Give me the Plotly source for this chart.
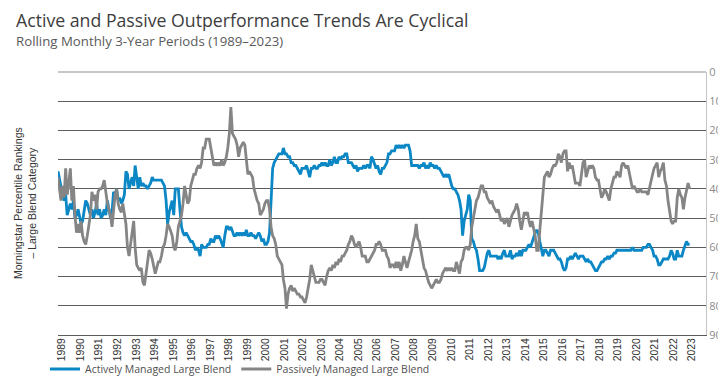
import pandas as pd
import plotly.graph_objects as go

# Monthly percentile rankings (lower = better), Jan 1989 onward
start_month = "1989-01-01"

active_rank = [
    34, 37, 40, 42, 44, 42, 49, 47, 45, 47, 44, 50, 49, 47, 50, 52, 51, 48, 44, 45, 47,
    49, 47, 50, 48, 45, 49, 47, 50, 49, 47, 49, 44, 47,
    50, 48, 41, 42, 40, 44, 43, 45, 44, 42, 34, 35, 40, 38,
    36, 39, 32, 36, 40, 36, 39, 38, 39, 39, 40, 39, 38,
    36, 37, 37, 37, 37, 37, 37, 38, 39, 44, 52, 48, 46,
    44, 49, 40, 40, 40, 47, 53, 55, 56, 55, 56, 57, 58, 58,
    59, 61, 60, 61, 63, 59, 60, 60, 60, 59, 59, 57, 58,
    58, 56, 57, 56, 57, 59,
    60, 56, 53, 53, 54, 53, 55, 56,
    56, 55, 56, 55, 56, 55, 56, 54, 56, 56, 55, 56, 56, 57, 56,
    55, 56, 58, 57, 59, 59, 58, 55, 42, 33, 31, 30, 29, 28, 28,
    28, 26, 28, 28, 29, 29, 31, 31, 32, 32, 33, 34, 35, 33, 33,
    33, 32, 34, 36, 33, 33, 32, 33, 33, 32, 32, 31, 32, 31, 32,
    32, 30, 32, 31, 29, 31, 31, 29, 30, 29, 29, 28, 28, 31, 31,
    31, 32, 33, 32, 34, 33, 33, 33, 32, 33, 32, 32, 33, 29, 30,
    32, 33, 32, 34, 35, 33,
    33, 32, 31, 28, 28, 27, 27,
    27, 25, 26, 25, 26, 25, 26, 25, 25, 25, 27, 32, 32,
    32, 32, 32, 33, 32, 32, 31, 33, 32, 33, 31, 32, 32,
    33, 32, 33, 33, 34, 35, 36, 35, 36, 35, 37, 39, 40,
    40, 41, 42, 44, 47, 56, 51, 49, 47, 42, 44, 57, 58,
    60, 61, 64, 68, 68, 68, 67, 64, 62, 61, 63, 63, 63,
    63, 63, 64, 63, 64, 62, 61, 63, 63, 63, 61, 64, 63,
    63, 62, 63, 61, 63, 61, 61, 61, 60, 59, 60, 58, 56,
    55, 54, 55, 58, 61, 63,
    61, 61, 62, 63, 61, 61, 61, 62,
    63, 64, 64, 65, 67, 68, 67, 64, 64, 63, 64, 63, 62, 63,
    64, 63, 63, 63, 64, 65, 64, 65, 65, 66, 67, 68, 68,
    67, 66, 65, 65, 64, 64, 63, 64, 63, 63, 62, 62, 61, 61,
    61, 61, 61, 61, 61, 61, 61, 61, 60, 61, 61, 61, 61,
    61, 61, 60, 60, 60, 59, 59, 60, 61, 63, 63, 64, 66, 66,
    65, 64, 64, 64, 64, 63, 61, 62, 64, 64, 61, 63, 63,
    63, 61, 59, 58, 59, 59,
]

passive_rank = [
    36, 40, 44, 39, 43, 33, 42, 38,
    33, 44, 39, 49, 55, 52, 55, 51, 56, 58, 59, 56, 53,
    49, 41, 44, 42, 47, 41, 40, 40, 39, 37, 42, 45, 47,
    49, 53, 48, 42, 40, 45, 47, 48, 45, 48, 52, 60, 63, 59,
    55, 51, 60, 66, 67, 68, 67, 72, 73, 68, 65, 61, 62,
    64, 67, 69, 67, 65, 65, 63, 60, 59, 56, 52, 53, 55,
    56, 60, 61, 58, 53, 51, 49, 45, 39, 42, 45, 44, 39, 37,
    35, 35, 33, 32, 33, 31, 26, 26, 23, 23, 23, 26, 29,
    32, 31, 32, 31, 32, 30,
    32, 31, 29, 26, 21, 12, 21, 22,
    23, 25, 29, 26, 25, 24, 25, 31, 35, 34, 35, 36, 40, 42, 44,
    45, 49, 48, 47, 45, 44, 44, 47, 53, 56, 57, 59, 63, 64, 65,
    66, 71, 74, 81, 76, 74, 73, 75, 74, 75, 76, 76, 77, 77, 78,
    79, 77, 74, 71, 66, 68, 71, 72, 72, 72, 71, 71, 72, 73, 70,
    68, 67, 68, 66, 67, 65, 66, 64, 65, 63, 63, 62, 61, 59, 58,
    56, 57, 59, 60, 59, 58, 60, 63, 63, 63, 65, 65, 64, 63, 62,
    61, 59, 59, 58, 59, 61,
    61, 61, 63, 64, 67, 66, 66,
    67, 65, 67, 65, 68, 66, 63, 65, 67, 65, 63, 61, 58,
    56, 52, 57, 58, 61, 63, 67, 68, 70, 72, 73, 74, 73,
    72, 71, 72, 72, 71, 69, 68, 67, 68, 67, 68, 67, 68,
    68, 65, 67, 69, 65, 64, 61, 60, 60, 61, 59, 53, 50,
    47, 44, 43, 41, 39, 39, 41, 41, 43, 44, 45, 44, 46,
    47, 48, 47, 49, 51, 50, 52, 51, 50, 53, 51, 49, 48,
    47, 45, 47, 51, 54, 51, 48, 49, 48, 51, 53, 51, 54,
    56, 61, 61, 54, 47, 41,
    36, 35, 34, 36, 35, 33, 32, 32,
    31, 28, 29, 31, 28, 27, 27, 34, 31, 33, 32, 35, 38, 38,
    38, 39, 35, 31, 30, 36, 34, 32, 33, 32, 33, 36, 37,
    37, 40, 43, 42, 40, 41, 43, 44, 40, 38, 36, 36, 34, 35,
    36, 32, 31, 32, 33, 32, 35, 37, 40, 39, 40, 41, 41,
    40, 41, 41, 41, 41, 42, 40, 37, 35, 33, 32, 31, 36, 34,
    33, 31, 37, 39, 44, 47, 51, 52, 51, 51, 43, 40, 42,
    43, 47, 43, 41, 38, 40,
]

series_names = ["Actively Managed Large Blend", "Passively Managed Large Blend"]
series_colors = ["#0a87c4", "#858585"]
rank_ticks = list(range(0, 100, 10))

dates_active = pd.date_range(start_month, periods=len(active_rank), freq="MS")
dates_passive = pd.date_range(start_month, periods=len(passive_rank), freq="MS")

fig = go.Figure()
fig.add_trace(go.Scatter(x=dates_active, y=active_rank, mode="lines",
                         name=series_names[0],
                         line=dict(color=series_colors[0], width=2.8)))
fig.add_trace(go.Scatter(x=dates_passive, y=passive_rank, mode="lines",
                         name=series_names[1],
                         line=dict(color=series_colors[1], width=2.8)))

W, H = 726, 380
L, R, T, B = 50, 28, 64, 53
pw, ph = W - L - R, H - T - B

def px_x(x):
    return (x - L) / pw

def px_y(y):
    return (H - B - y) / ph

fig.update_layout(
    width=W, height=H,
    margin=dict(l=L, r=R, t=T, b=B, autoexpand=False),
    paper_bgcolor="white", plot_bgcolor="white",
    showlegend=True,
    legend=dict(orientation="h", x=px_x(37), xanchor="left",
                y=px_y(361), yanchor="middle",
                font=dict(family="Open Sans", size=10.5, color="#505050"),
                itemwidth=30, bgcolor="rgba(0,0,0,0)"),
    xaxis=dict(type="date", range=["1989-01-01", "2023-12-20"],
               tick0="1989-01-01", dtick="M12", tickformat="%Y",
               tickangle=-90, ticklabelshift=4, ticklabelstandoff=-2,
               ticks="", ticklen=0, showgrid=False,
               showline=True, linecolor="#5c5c5c", linewidth=1, mirror=False,
               zeroline=False,
               tickfont=dict(family="Liberation Sans", size=10.4, color="#333333")),
    yaxis=dict(range=[90, 0], tickvals=rank_ticks, side="right",
               showgrid=True, gridcolor="#5c5c5c", gridwidth=1,
               zeroline=False, showline=True, linecolor="#c4c4c4", linewidth=1,
               ticks="",
               tickfont=dict(family="Open Sans", size=11, color="#8c8c8c")),
    shapes=[dict(type="line", xref="paper", yref="paper", x0=0, x1=1, y0=1, y1=1,
                 line=dict(color="#c8c8c8", width=2), layer="above")],
    annotations=[
        dict(text="Active and Passive Outperformance Trends Are Cyclical",
             xref="paper", yref="paper", x=px_x(6), y=px_y(12),
             xanchor="left", yanchor="middle", showarrow=False,
             font=dict(family="Open Sans", size=17.7, color="#3d3d3d")),
        dict(text="Rolling Monthly 3-Year Periods (1989\u20132023)",
             xref="paper", yref="paper", x=px_x(6), y=px_y(33),
             xanchor="left", yanchor="middle", showarrow=False,
             font=dict(family="Open Sans", size=13.25, color="#5a5a5a")),
        dict(text="Morningstar Percentile Rankings<br>\u2013 Large Blend Category",
             xref="paper", yref="paper", x=px_x(17), y=px_y(195),
             xanchor="center", yanchor="middle", showarrow=False, textangle=-90,
             font=dict(family="Liberation Sans", size=10.5, color="#333333")),
    ],
)

fig.write_html("out.html")
